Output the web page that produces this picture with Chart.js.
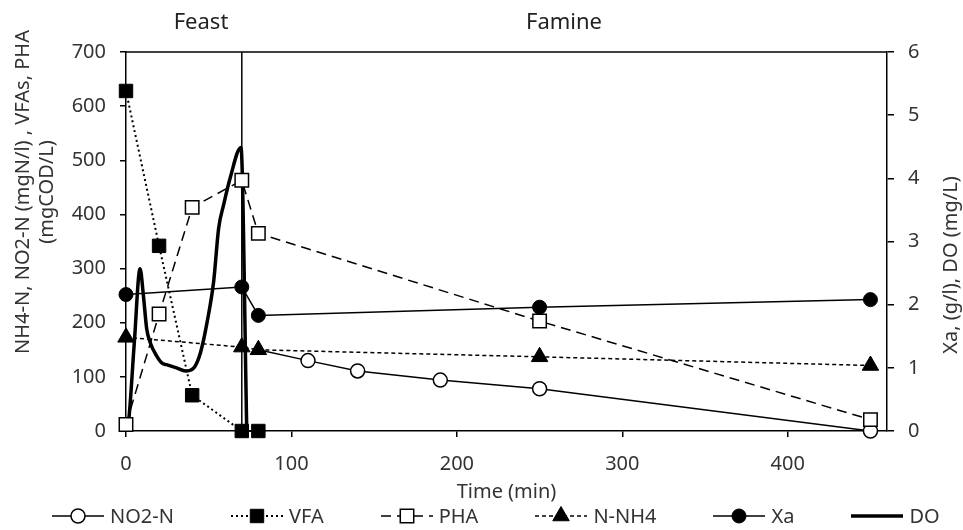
<!DOCTYPE html>
<html>
<head>
<meta charset="utf-8">
<script src="https://cdn.jsdelivr.net/npm/chart.js@4.4.1/dist/chart.umd.min.js"></script>
<style>
  body { margin: 0; background: #fff; }
  #wrap { position: relative; width: 963px; height: 530px; }
  #legend {
    position: absolute; left: 52px; top: 503px; height: 26px; width: 911px;
    display: flex; align-items: center; white-space: nowrap;
    font-family: "Noto Sans", sans-serif; font-size: 20px; color: #333;
  }
  .item { display: flex; align-items: center; margin-right: 57px; flex-shrink: 0; }
  .item span { margin-left: 6px; line-height: 24px; }
</style>
</head>
<body>
<div id="wrap">
  <canvas id="chart" width="963" height="530"></canvas>
  <div id="legend"></div>
</div>
<script>
// time in minutes, left axis in mgN/l or mgCOD/L
const timeNO2 = [80, 110, 140, 190, 250, 450];
const no2 = [150, 130, 111, 94, 78, 0];

const timeVFA = [0, 20, 40, 70, 80];
const vfa = [628, 342, 66, 0, 0];

const timePHA = [0, 20, 40, 70, 80, 250, 450];
const pha = [12, 216, 413, 463, 365, 203, 21];

const timeNH4 = [0, 70, 80, 250, 450];
const nh4 = [173, 155, 150, 137, 121];

// right axis: Xa in g/l, DO in mg/L
const timeXa = [0, 70, 80, 250, 450];
const xa = [2.16, 2.28, 1.83, 1.96, 2.08];

const timeDO = [0, 1.5, 5, 8.5, 10.5, 12.5, 14.5, 18.5, 22, 24.5, 30.5, 36, 41, 45, 49, 53, 56, 59, 63, 69.5, 73];
const dissolvedO2 = [0, 0.13, 1.39, 2.57, 2.15, 1.62, 1.41, 1.19, 1.07, 1.05, 1.0, 0.95, 1.0, 1.24, 1.72, 2.37, 3.21, 3.58, 4.01, 4.49, 0];

const feastEnd = 70;
const xTicks = [0, 100, 200, 300, 400];

function points(xs, ys) {
  return xs.map((x, i) => ({ x: x, y: ys[i] }));
}

const FONT = '"Noto Sans", sans-serif';
const TEXT = '#333';

const datasets = [
  {
    label: 'NO2-N', data: points(timeNO2, no2), yAxisID: 'y',
    borderColor: '#000', borderWidth: 1.5, pointStyle: 'circle',
    pointRadius: [0, 7, 7, 7, 7, 7], pointBackgroundColor: '#fff', pointBorderColor: '#000',
    pointBorderWidth: 1.5, order: 3
  },
  {
    label: 'VFA', data: points(timeVFA, vfa), yAxisID: 'y',
    borderColor: '#000', borderWidth: 2, borderDash: [2, 3], pointStyle: 'rect',
    pointRadius: 9.5, pointBackgroundColor: '#000', pointBorderColor: '#000',
    pointBorderWidth: 1, order: 1
  },
  {
    label: 'PHA', data: points(timePHA, pha), yAxisID: 'y',
    borderColor: '#000', borderWidth: 1.5, borderDash: [10, 6], pointStyle: 'rect',
    pointRadius: 9.5, pointBackgroundColor: '#fff', pointBorderColor: '#000',
    pointBorderWidth: 1.5, order: 2
  },
  {
    label: 'N-NH4', data: points(timeNH4, nh4), yAxisID: 'y',
    borderColor: '#000', borderWidth: 1.5, borderDash: [4, 3], pointStyle: 'triangle',
    pointRadius: 9.5, pointBackgroundColor: '#000', pointBorderColor: '#000',
    pointBorderWidth: 1, order: 1
  },
  {
    label: 'Xa', data: points(timeXa, xa), yAxisID: 'y1',
    borderColor: '#000', borderWidth: 1.5, pointStyle: 'circle',
    pointRadius: 7, pointBackgroundColor: '#000', pointBorderColor: '#000',
    pointBorderWidth: 1, order: 1
  },
  {
    label: 'DO', data: points(timeDO, dissolvedO2), yAxisID: 'y1',
    borderColor: '#000', borderWidth: 3.5, pointRadius: 0,
    cubicInterpolationMode: 'monotone', order: 5
  },
  {
    label: 'divider', data: [{ x: feastEnd, y: 0 }, { x: feastEnd, y: 700 }], yAxisID: 'y',
    borderColor: '#000', borderWidth: 1.5, pointRadius: 0, order: 6
  }
];
datasets.forEach(d => { d.showLine = true; d.fill = false; d.clip = false; });

const framePlugin = {
  id: 'frame',
  afterDraw(chart) {
    const ctx = chart.ctx;
    const area = chart.chartArea;
    ctx.save();
    ctx.strokeStyle = '#000';
    ctx.lineWidth = 1.5;
    ctx.beginPath();
    ctx.moveTo(area.left, area.top);
    ctx.lineTo(area.right, area.top);
    ctx.stroke();

    ctx.fillStyle = '#222';
    ctx.textAlign = 'center';
    ctx.textBaseline = 'middle';
    ctx.font = '22px ' + FONT;
    ctx.fillText('Feast', 201, 23);
    ctx.fillText('Famine', 564, 23);

    ctx.fillStyle = TEXT;
    ctx.font = '20px ' + FONT;
    ctx.fillText('Time (min)', (area.left + area.right) / 2, 492);

    ctx.save();
    ctx.translate(23, 192);
    ctx.rotate(-Math.PI / 2);
    ctx.fillText('NH4-N, NO2-N (mgN/l) , VFAs, PHA', 0, 0);
    ctx.fillText('(mgCOD/L)', 0, 24);
    ctx.restore();

    ctx.save();
    ctx.translate(951, 265);
    ctx.rotate(-Math.PI / 2);
    ctx.fillText('Xa, (g/l), DO (mg/L)', 0, 0);
    ctx.restore();
    ctx.restore();
  }
};

const axisGrid = (len) => ({ drawOnChartArea: false, drawTicks: true, tickLength: len, color: '#000', lineWidth: 1.5 });
const axisBorder = { display: true, color: '#000', width: 1.5 };
const tickFont = { family: FONT, size: 20 };

const chart = new Chart(document.getElementById('chart'), {
  type: 'scatter',
  data: { datasets: datasets },
  options: {
    responsive: false,
    animation: false,
    layout: { padding: { top: 52, bottom: 39, left: 0, right: 0 } },
    plugins: { legend: { display: false }, tooltip: { enabled: false } },
    scales: {
      x: {
        type: 'linear', min: 0, max: 460,
        grid: axisGrid(6), border: axisBorder,
        ticks: { stepSize: 100, includeBounds: false, padding: 15, color: TEXT, font: tickFont },
        afterBuildTicks: s => { s.ticks = xTicks.map(v => ({ value: v })); }
      },
      y: {
        position: 'left', min: 0, max: 700,
        grid: axisGrid(6), border: axisBorder,
        ticks: { stepSize: 100, padding: 14, color: TEXT, font: tickFont },
        afterFit: s => { s.width = 126; }
      },
      y1: {
        position: 'right', min: 0, max: 6,
        grid: axisGrid(7), border: axisBorder,
        ticks: { stepSize: 1, padding: 14, color: TEXT, font: tickFont },
        afterFit: s => { s.width = 76; }
      }
    }
  },
  plugins: [framePlugin]
});

// html legend with small line samples
function drawMarker(ctx, ds, x, y) {
  const r = Array.isArray(ds.pointRadius) ? ds.pointRadius[1] : ds.pointRadius;
  if (!r) return;
  ctx.setLineDash([]);
  ctx.fillStyle = ds.pointBackgroundColor;
  ctx.strokeStyle = ds.pointBorderColor;
  ctx.lineWidth = ds.pointBorderWidth;
  ctx.beginPath();
  if (ds.pointStyle === 'circle') {
    ctx.arc(x, y, r, 0, Math.PI * 2);
  } else if (ds.pointStyle === 'rect') {
    const s = r * Math.SQRT1_2;
    ctx.rect(x - s, y - s, 2 * s, 2 * s);
  } else if (ds.pointStyle === 'triangle') {
    ctx.moveTo(x, y - r);
    ctx.lineTo(x + r * 0.866, y + r * 0.5);
    ctx.lineTo(x - r * 0.866, y + r * 0.5);
    ctx.closePath();
  }
  ctx.fill();
  ctx.stroke();
}

const legend = document.getElementById('legend');
datasets.filter(d => d.label !== 'divider').forEach(ds => {
  const item = document.createElement('div');
  item.className = 'item';
  const c = document.createElement('canvas');
  c.width = 52; c.height = 22;
  const ctx = c.getContext('2d');
  ctx.strokeStyle = '#000';
  ctx.lineWidth = ds.borderWidth;
  ctx.setLineDash(ds.borderDash || []);
  ctx.beginPath();
  ctx.moveTo(0, 11);
  ctx.lineTo(52, 11);
  ctx.stroke();
  drawMarker(ctx, ds, 26, 11);
  const t = document.createElement('span');
  t.textContent = ds.label;
  item.appendChild(c);
  item.appendChild(t);
  legend.appendChild(item);
});
</script>
</body>
</html>
